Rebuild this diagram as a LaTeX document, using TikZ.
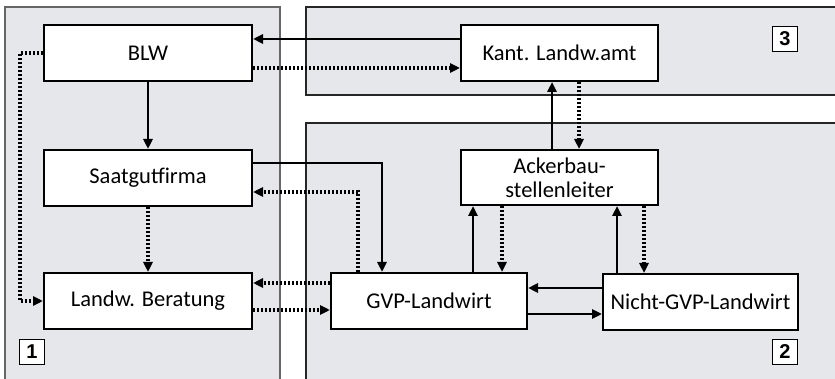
\documentclass[tikz,border=0pt]{standalone}
\usepackage{fontspec}
\setmainfont{Carlito}
\newfontfamily\numfont{Liberation Sans}
\usepackage{tikz}
\usetikzlibrary{positioning,arrows.meta,calc}

\definecolor{panelgray}{HTML}{E6E7EB}

\begin{document}
\begin{tikzpicture}[x=1pt,y=-1pt,on grid,
        >={Triangle[length=10pt,width=9pt]},
        actor/.style={draw,line width=2pt,fill=white,minimum height=56pt,
          font=\fontsize{22.5}{24}\selectfont,inner sep=0pt,align=center},
        wide/.style={actor,minimum width=208pt},
        narrow/.style={actor,minimum width=197pt},
        solidline/.style={line width=2.6pt,->},
        dotline/.style={line width=3.2pt,dash pattern=on 2.4pt off 1.6pt,->},
        tag/.style={draw,line width=1.5pt,fill=white,minimum size=25pt,inner sep=0pt,
          font=\numfont\bfseries\fontsize{20}{20}\selectfont}]
      \useasboundingbox (0,0) rectangle (835,379);
      %% panels
      \fill[panelgray] (5,7) rectangle (835,379);
      \fill[white] (280,0) rectangle (306,379);
      \fill[white] (306,95) rectangle (835,123);
      \draw[gray!80!black,line width=1.2pt] (5,379) -- (5,7) -- (280,7) -- (280,379);
      \draw[black!85,line width=1.2pt] (306,379) -- (306,123) -- (835,123);
      \draw[black!85,line width=1.2pt] (835,95) -- (306,95) -- (306,7) -- (835,7);
      %% panel 1
      \node[wide] (blw) at (148,53) {BLW};
      \node[wide] (saat) [below=125pt of blw] {Saatgutfirma};
      \node[wide] (berat) [below=123pt of saat] {Landw. Beratung};
      \node[tag] (t1) at (32,352) {1};
      %% panel 3
      \node[narrow] (kant) at (559.5,53) {Kant. Landw.amt};
      \node[tag] (t3) at (785,39) {3};
      %% panel 2
      \node[narrow,minimum height=55pt] (acker) at (559.5,177.5) {Ackerbau-\\stellenleiter};
      \node[actor,minimum width=196pt] (gvp) at (429,301) {GVP-Landwirt};
      \node[actor,minimum width=195pt] (nicht) at (700.5,302) {Nicht-GVP-Landwirt};
      \node[tag] (t2) at (785,352) {2};
      %% arrows
      \draw[solidline] (blw) -- (saat);
      \draw[dotline] (saat) -- (berat);
      \draw[dotline] (blw.west) -- ++(-23,0) |- (berat.west);
      \draw[solidline] ([yshift=14pt]kant.west) -- ([yshift=14pt]kant.west -| blw.east);
      \draw[dotline] ([yshift=-15pt]blw.east) -- ([yshift=-15pt]blw.east -| kant.west);
      \draw[solidline] ([yshift=15pt]saat.east) -| ([xshift=-47pt]gvp.north);
      \draw[dotline] ([xshift=-71pt]gvp.north) |- ([yshift=-14pt]saat.east);
      \draw[dotline] ([yshift=18pt]gvp.west) -- ([yshift=18pt]berat.east);
      \draw[dotline] ([yshift=-9pt]berat.east) -- ([yshift=-9pt]gvp.west);
      \draw[solidline] ([xshift=-7.5pt]acker.north) -- ([xshift=-7.5pt]kant.south);
      \draw[dotline] ([xshift=19.5pt]kant.south) -- ([xshift=19.5pt]acker.north);
      \draw[solidline] ([xshift=44pt]gvp.north) -- ([xshift=44pt]gvp.north |- acker.south);
      \draw[dotline] ([xshift=73pt]gvp.north |- acker.south) -- ([xshift=73pt]gvp.north);
      \draw[solidline] ([xshift=-83.5pt]nicht.north) -- ([xshift=-83.5pt]nicht.north |- acker.south);
      \draw[dotline] ([xshift=-56.5pt]nicht.north |- acker.south) -- ([xshift=-56.5pt]nicht.north);
      \draw[solidline] ([yshift=14pt]nicht.west) -- ([yshift=14pt]nicht.west -| gvp.east);
      \draw[solidline] ([yshift=-13pt]gvp.east -| gvp.east) -- ([yshift=-13pt]gvp.east -| nicht.west);
    \end{tikzpicture}
\end{document}
